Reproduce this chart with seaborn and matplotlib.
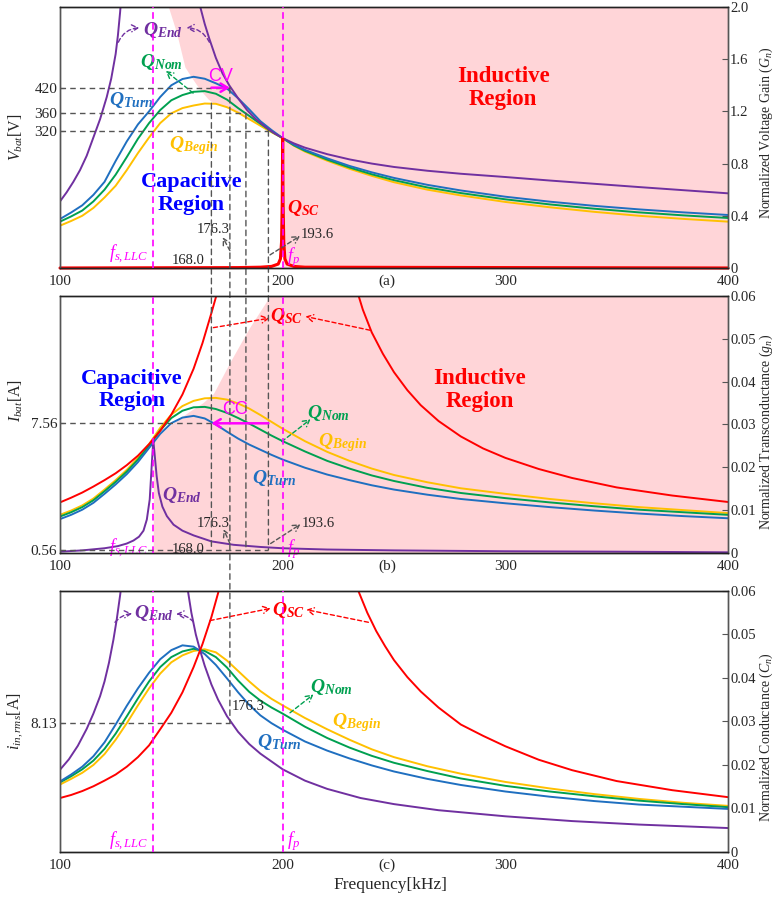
import matplotlib
matplotlib.use("Agg")
import matplotlib.pyplot as plt
from matplotlib.patches import ConnectionPatch
import seaborn as sns

# ---------------- panel (a): normalized voltage gain ----------------
A_F = [100, 105, 110, 115, 120, 125, 130, 135, 140, 145, 150, 155, 160, 165, 170, 175, 180, 185, 190, 195,
       200, 205, 210, 220, 230, 240, 250, 265, 280, 300, 320, 340, 360, 380, 400]
A_TURN = [0.375, 0.425, 0.48, 0.56, 0.66, 0.82, 0.97, 1.10, 1.20, 1.31, 1.40, 1.448, 1.465, 1.45, 1.415,
          1.375, 1.30, 1.215, 1.125, 1.057, 0.995, 0.945, 0.905, 0.84, 0.782, 0.733, 0.690, 0.637, 0.594,
          0.546, 0.508, 0.476, 0.449, 0.426, 0.406]
A_NOM = [0.355, 0.395, 0.44, 0.51, 0.60, 0.715, 0.85, 0.99, 1.11, 1.21, 1.285, 1.325, 1.35, 1.355, 1.335,
         1.29, 1.225, 1.165, 1.105, 1.045, 0.995, 0.94, 0.898, 0.83, 0.770, 0.718, 0.673, 0.617, 0.574,
         0.526, 0.487, 0.454, 0.426, 0.403, 0.383]
A_BEGIN = [0.324, 0.36, 0.40, 0.46, 0.54, 0.63, 0.75, 0.88, 1.00, 1.11, 1.185, 1.225, 1.245, 1.26, 1.258,
           1.232, 1.19, 1.14, 1.09, 1.04, 0.995, 0.937, 0.892, 0.822, 0.760, 0.706, 0.657, 0.600, 0.556,
           0.506, 0.465, 0.430, 0.400, 0.376, 0.355]
A_END_L_F = [100, 103, 106, 109, 112, 115, 118, 121, 123, 125, 126, 127, 128]
A_END_L = [0.51, 0.58, 0.66, 0.75, 0.86, 1.00, 1.14, 1.31, 1.45, 1.64, 1.78, 1.96, 2.18]
A_END_R_F = [161, 163, 165, 167, 170, 173, 176, 180, 184, 188, 192, 196, 200, 205, 210, 220, 230, 240,
             250, 265, 280, 300, 320, 340, 360, 380, 400]
A_END_R = [2.20, 2.00, 1.87, 1.76, 1.61, 1.49, 1.40, 1.30, 1.21, 1.14, 1.085, 1.035, 0.995, 0.955, 0.922,
           0.872, 0.832, 0.800, 0.774, 0.745, 0.722, 0.697, 0.670, 0.645, 0.620, 0.596, 0.572]
A_SC_F = [100, 180, 190, 195, 198, 199, 199.5, 199.8, 200, 200.2, 200.5, 201, 202, 205, 210, 400]
A_SC = [0, 0.003, 0.006, 0.012, 0.03, 0.07, 0.2, 0.5, 0.995, 0.5, 0.2, 0.07, 0.03, 0.012, 0.006, 0]
A_PINK_F = [148.7, 152.4, 156.1, 159.1, 161.5, 164, 166.5, 169, 175, 180, 185, 190, 195, 200]
A_PINK = [2.0, 1.80, 1.54, 1.46, 1.40, 1.345, 1.295, 1.262, 1.232, 1.19, 1.14, 1.09, 1.04, 0.995]
V_PER_GAIN = 304
V_LEVELS = [420, 360, 320]
V_TICKS = [320, 360, 420]

# ---------------- panel (b): normalized transconductance ----------------
BC_F = [100, 105, 110, 115, 120, 125, 130, 135, 140, 145, 150, 155, 160, 165, 170, 175, 180, 185, 190, 195,
        200, 210, 220, 230, 240, 250, 265, 280, 300, 320, 340, 360, 380, 400]
B_TURN = [0.0079, 0.0089, 0.0101, 0.0117, 0.0138, 0.0160, 0.0184, 0.0212, 0.0245, 0.0278, 0.0303, 0.0316,
          0.0320, 0.0314, 0.0300, 0.0283, 0.0267, 0.0253, 0.0241, 0.0229, 0.0218, 0.0199, 0.0183, 0.0170,
          0.0158, 0.0148, 0.0136, 0.0126, 0.0116, 0.0107, 0.0099, 0.0092, 0.0086, 0.0081]
B_NOM = [0.0085, 0.0095, 0.0107, 0.0123, 0.0144, 0.0166, 0.0190, 0.0218, 0.0250, 0.0286, 0.0315, 0.0332,
         0.0340, 0.0341, 0.0336, 0.0327, 0.0315, 0.0302, 0.0288, 0.0274, 0.0261, 0.0237, 0.0215, 0.0197,
         0.0181, 0.0168, 0.0152, 0.0140, 0.0128, 0.0118, 0.0109, 0.0101, 0.0095, 0.0089]
B_BEGIN = [0.0089, 0.0099, 0.0111, 0.0127, 0.0148, 0.0170, 0.0194, 0.0222, 0.0254, 0.0292, 0.0323, 0.0343,
           0.0355, 0.0361, 0.0362, 0.0358, 0.0349, 0.0337, 0.0322, 0.0306, 0.0290, 0.0261, 0.0236, 0.0215,
           0.0197, 0.0182, 0.0165, 0.0151, 0.0138, 0.0126, 0.0116, 0.0107, 0.0100, 0.0093]
B_END_F = [100, 110, 120, 126, 130, 133, 135.5, 137.5, 139, 140.3, 141.2, 141.9, 142.6, 143.4, 144.4, 146,
           148, 151, 155, 160, 168, 178, 190, 200, 220, 250, 300, 350, 400]
B_END = [0.0003, 0.0006, 0.0011, 0.0016, 0.0022, 0.0029, 0.0038, 0.0052, 0.0078, 0.0125, 0.0205, 0.0264,
         0.0225, 0.0180, 0.0140, 0.0108, 0.0086, 0.0066, 0.0052, 0.0041, 0.0027, 0.0019, 0.0014, 0.0011,
         0.0008, 0.0006, 0.0004, 0.0003, 0.00015]
B_SC_L_F = [100, 105, 110, 115, 120, 125, 130, 135, 140, 145, 150, 155, 160, 164, 168, 171, 173]
B_SC_L = [0.0118, 0.0129, 0.0141, 0.0155, 0.0170, 0.0186, 0.0205, 0.0227, 0.0254, 0.0285, 0.0323, 0.0370,
          0.0430, 0.0490, 0.0560, 0.0615, 0.0660]
B_SC_R_F = [230, 232, 236, 240, 245, 250, 256, 262, 270, 280, 290, 300, 315, 330, 350, 375, 400]
B_SC_R = [0.0670, 0.0636, 0.0568, 0.0515, 0.0465, 0.0422, 0.0380, 0.0345, 0.0308, 0.0272, 0.0244, 0.0222,
          0.0196, 0.0175, 0.0153, 0.0134, 0.0119]
B_PINK_F = [141.9, 150, 158, 164, 168.9, 176.3, 185, 194.3]
B_PINK = [0.0264, 0.0300, 0.0330, 0.0350, 0.0372, 0.0445, 0.0525, 0.060]
I_LIM = (0.394, 14.6)
I_TICKS = [0.56, 7.56]

# ---------------- panel (c): normalized conductance ----------------
C_TURN = [0.0162, 0.0178, 0.0196, 0.0220, 0.0252, 0.0293, 0.0336, 0.0376, 0.0412, 0.0443, 0.0464, 0.0475,
          0.0472, 0.0455, 0.0430, 0.0399, 0.0367, 0.0338, 0.0314, 0.0296, 0.0281, 0.0254, 0.0233, 0.0215,
          0.0199, 0.0185, 0.0168, 0.0154, 0.0139, 0.0127, 0.0117, 0.0109, 0.0104, 0.0099]
C_NOM = [0.0160, 0.0174, 0.0190, 0.0210, 0.0237, 0.0272, 0.0312, 0.0353, 0.0392, 0.0425, 0.0448, 0.0461,
         0.0467, 0.0462, 0.0448, 0.0424, 0.0394, 0.0368, 0.0348, 0.0332, 0.0318, 0.0288, 0.0262, 0.0240,
         0.0221, 0.0205, 0.0186, 0.0169, 0.0152, 0.0139, 0.0128, 0.0118, 0.0110, 0.0103]
C_BEGIN = [0.0155, 0.0168, 0.0182, 0.0200, 0.0225, 0.0258, 0.0296, 0.0337, 0.0376, 0.0410, 0.0436, 0.0452,
           0.0462, 0.0466, 0.0459, 0.0440, 0.0416, 0.0392, 0.0370, 0.0352, 0.0337, 0.0308, 0.0282, 0.0258,
           0.0236, 0.0218, 0.0197, 0.0180, 0.0161, 0.0146, 0.0133, 0.0122, 0.0113, 0.0106]
C_END_L_F = [100, 104, 108, 112, 115, 118, 120, 122, 124, 125.5, 127, 128.5]
C_END_L = [0.0189, 0.0213, 0.0244, 0.0283, 0.0318, 0.0358, 0.0392, 0.0435, 0.0488, 0.0535, 0.0590, 0.0650]
C_END_R_F = [155.5, 157, 159, 161, 163, 165, 168, 171, 175, 180, 185, 190, 200, 210, 220, 235, 250, 270,
             300, 330, 360, 400]
C_END_R = [0.0670, 0.0615, 0.0550, 0.0500, 0.0462, 0.0428, 0.0385, 0.0350, 0.0312, 0.0276, 0.0248, 0.0226,
           0.0190, 0.0164, 0.0145, 0.0124, 0.0110, 0.0096, 0.0082, 0.0071, 0.0063, 0.0055]
C_SC_L_F = [100, 105, 110, 115, 120, 125, 130, 135, 140, 145, 150, 155, 160, 164, 168, 171, 173.5]
C_SC_L = [0.0124, 0.0131, 0.0140, 0.0151, 0.0164, 0.0178, 0.0196, 0.0218, 0.0245, 0.0282, 0.0320, 0.0367,
          0.0425, 0.0478, 0.0540, 0.0595, 0.0650]
C_SC_R_F = [230, 234, 238, 242, 246, 250, 256, 262, 270, 280, 290, 300, 315, 330, 350, 375, 400]
C_SC_R = [0.0660, 0.0600, 0.0550, 0.0508, 0.0473, 0.0441, 0.0402, 0.0369, 0.0332, 0.0293, 0.0267, 0.0243,
          0.0212, 0.0188, 0.0163, 0.0142, 0.0126]
A_PER_C = 275.2
C_TICKS = [8.13]

# marked frequencies (kHz) and levels
F_S_LLC = 141.8
F_P = 200
F_168 = 168.0
F_176 = 176.3
F_183 = 183.5
F_193 = 193.6
I_CC = 7.56
I_LOW = 0.56
I_RMS = 8.13

X_TICKS = [100, 200, 300, 400]
GAIN_TICKS = [0, 0.4, 0.8, 1.2, 1.6, 2.0]
GAIN_LABELS = ["0", "0.4", "0.8", "1.2", "1.6", "2.0"]
G_TICKS = [0, 0.01, 0.02, 0.03, 0.04, 0.05, 0.06]
G_LABELS = ["0", "0.01", "0.02", "0.03", "0.04", "0.05", "0.06"]

PURPLE = "#7030A0"
BLUE = "#1F6FC0"
GREEN = "#00A050"
YELLOW = "#FFC000"
RED = "#FF0000"
MAGENTA = "#FF00FF"
PINK = "#FFD5D8"
GRAY = "#555555"

sns.set_style("white")
plt.rcParams["font.family"] = ["Liberation Serif", "DejaVu Serif"]
plt.rcParams["mathtext.fontset"] = "custom"
plt.rcParams["mathtext.rm"] = "Liberation Serif"
plt.rcParams["mathtext.it"] = "Liberation Serif:italic"
plt.rcParams["mathtext.bf"] = "Liberation Serif:italic:bold"

fig = plt.figure(figsize=(7.73, 9.05), dpi=100)
ax_a = fig.add_axes([0.0776, 0.7039, 0.8642, 0.2884])
ax_b = fig.add_axes([0.0776, 0.3890, 0.8642, 0.2840])
ax_c = fig.add_axes([0.0776, 0.0586, 0.8642, 0.2884])

DASH = (0, (4, 3))
MDASH = (0, (4, 2.5))


def curve(ax, f, y, color, lw=1.4, **kw):
    sns.lineplot(x=f, y=y, ax=ax, color=color, linewidth=lw, estimator=None,
                 sort=False, legend=False, **kw)


def qlabel(ax, x, y, name, color, size=14):
    ax.text(x, y, r"$\mathbf{Q_{%s}}$" % name, color=color, fontsize=size,
            ha="center", va="center", zorder=6)


def arrow(ax, start, end, color, rad=0.0, lw=1.0):
    ax.annotate("", xy=end, xytext=start, zorder=6,
                arrowprops=dict(arrowstyle="->,head_length=0.45,head_width=0.25",
                                color=color, lw=lw, ls=(0, (3, 2)),
                                shrinkA=0, shrinkB=0,
                                connectionstyle="arc3,rad=%s" % rad))


def setup(ax, ylim, yticks, ylabel, rlim, rticks, rlabels, rlabel, tag, label_y, rlabel_y):
    axr = ax.twinx()
    ax.set_zorder(axr.get_zorder() + 1)
    ax.patch.set_visible(False)
    ax.set_xlim(100, 400)
    ax.set_ylim(*ylim)
    ax.set_xticks(X_TICKS)
    ax.set_yticks(yticks)
    ax.set_yticklabels(["%.2f" % t if t < 1 else "%g" % t for t in yticks])
    axr.set_ylim(*rlim)
    axr.set_yticks(rticks)
    axr.set_yticklabels(rlabels)
    ax.tick_params(axis="x", direction="in", length=4, labelsize=11, pad=5)
    ax.tick_params(axis="y", direction="in", length=3, labelsize=11, pad=2)
    axr.tick_params(axis="y", direction="in", length=4, labelsize=10.5, pad=1.5, color=GRAY)
    for a in (ax, axr):
        for s in a.spines.values():
            s.set_color(GRAY)
            s.set_linewidth(1.0)
        a.spines["bottom"].set_color("#222222")
        a.spines["top"].set_color("#222222")
    ax.set_ylabel(ylabel, fontsize=11.5)
    ax.yaxis.set_label_coords(-0.052, label_y)
    axr.set_ylabel(rlabel, fontsize=10)
    axr.yaxis.set_label_coords(1.044, rlabel_y)
    ax.text(0.49, -0.05, tag, transform=ax.transAxes, ha="center", va="center", fontsize=11)
    for fv in (F_S_LLC, F_P):
        ax.axvline(fv, color=MAGENTA, ls=MDASH, lw=1.2, zorder=3)
    return axr


# ---------------- panel (a) ----------------
ar = setup(ax_a, (0, 2 * V_PER_GAIN), V_TICKS, r"$V_{bat}$[V]", (0, 2.0), GAIN_TICKS, GAIN_LABELS,
           r"Normalized Voltage Gain ($G_n$)", "(a)", 0.5, 0.52)
ar.fill_between(A_PINK_F, A_PINK, 2.0, color=PINK, lw=0, zorder=0)
ar.axvspan(F_P, 400, color=PINK, lw=0, zorder=0)
curve(ar, A_F, A_BEGIN, YELLOW)
curve(ar, A_F, A_NOM, GREEN)
curve(ar, A_F, A_TURN, BLUE)
curve(ar, A_END_L_F, A_END_L, PURPLE)
curve(ar, A_END_R_F, A_END_R, PURPLE)
curve(ar, A_SC_F, A_SC, RED, lw=2.2, clip_on=False)

for v, fe in zip(V_LEVELS, (F_176, F_183, F_193)):
    ax_a.plot([100, fe], [v, v], color=GRAY, ls=DASH, lw=1.0, zorder=4)
ax_a.annotate("", xy=(F_176, V_LEVELS[0]), xytext=(F_168, V_LEVELS[0]), zorder=6,
              arrowprops=dict(arrowstyle="->,head_length=0.5,head_width=0.3", color=MAGENTA, lw=1.8,
                              shrinkA=0, shrinkB=0))
ax_a.text(172.0, 447, "CV", color=MAGENTA, fontsize=13, ha="center", va="center",
          family="Liberation Sans", zorder=6)

qlabel(ar, 146.1, 1.82, "End", PURPLE)
arrow(ar, (126.2, 1.73), (135.6, 1.84), PURPLE, rad=-0.3)
arrow(ar, (167.1, 1.73), (156.8, 1.84), PURPLE, rad=0.3)
qlabel(ar, 145.4, 1.58, "Nom", GREEN)
arrow(ar, (159.8, 1.34), (147.5, 1.51), GREEN)
qlabel(ar, 132.2, 1.29, "Turn", BLUE)
qlabel(ar, 159.9, 0.94, "Begin", YELLOW)
qlabel(ar, 209.3, 0.457, "SC", RED)
ar.text(159.1, 0.57, "Capacitive\nRegion", color="#0000FF", fontsize=16, fontweight="bold",
        ha="center", va="center", linespacing=1.15, zorder=6)
ar.text(299.1, 1.377, "Inductive\nRegion", color=RED, fontsize=16.5, fontweight="bold",
        ha="center", va="center", linespacing=1.15, zorder=6)
ar.text(168.9, 0.296, "176.3", fontsize=10.5, ha="center", va="center", zorder=6)
arrow(ar, (176.3, 0.133), (173.1, 0.235), GRAY)
ar.text(164.8, 0.056, "168.0", fontsize=10.5, ha="right", va="center", zorder=6)
ar.text(208.3, 0.253, "193.6", fontsize=10.5, ha="left", va="center", zorder=6)
arrow(ar, (194.3, 0.10), (207.8, 0.245), GRAY)
ar.text(139.5, 0.10, r"$f_{s,LLC}$", color=MAGENTA, fontsize=13, ha="right", va="center", zorder=6)
ar.text(202.0, 0.087, r"$f_{p}$", color=MAGENTA, fontsize=13, ha="left", va="center", zorder=6)

# ---------------- panel (b) ----------------
br = setup(ax_b, I_LIM, I_TICKS, r"$I_{bat}$[A]", (0, 0.06), G_TICKS, G_LABELS,
           r"Normalized Transconductance ($g_n$)", "(b)", 0.595, 0.47)
br.fill_between(B_PINK_F, 0, B_PINK, color=PINK, lw=0, zorder=0)
br.axvspan(B_PINK_F[-1], 400, color=PINK, lw=0, zorder=0)
curve(br, BC_F, B_BEGIN, YELLOW)
curve(br, BC_F, B_NOM, GREEN)
curve(br, BC_F, B_TURN, BLUE)
curve(br, B_END_F, B_END, PURPLE)
curve(br, B_SC_L_F, B_SC_L, RED)
curve(br, B_SC_R_F, B_SC_R, RED)

ax_b.plot([100, F_168], [I_CC, I_CC], color=GRAY, ls=DASH, lw=1.0, zorder=4)
ax_b.plot([100, F_193], [I_LOW, I_LOW], color=GRAY, ls=DASH, lw=1.0, zorder=4)
ax_b.annotate("", xy=(F_168, I_CC), xytext=(F_193, I_CC), zorder=6,
              arrowprops=dict(arrowstyle="->,head_length=0.5,head_width=0.3", color=MAGENTA, lw=1.8,
                              shrinkA=0, shrinkB=0))
br.text(178.6, 0.0336, "CC", color=MAGENTA, fontsize=13, ha="center", va="center",
        family="Liberation Sans", zorder=6)

qlabel(br, 201.8, 0.0552, "SC", RED)
arrow(br, (168.9, 0.0526), (194.0, 0.0548), RED)
arrow(br, (239.2, 0.0520), (210.3, 0.0552), RED)
qlabel(br, 220.5, 0.0326, "Nom", GREEN)
arrow(br, (199.6, 0.0260), (212.5, 0.0312), GREEN)
qlabel(br, 226.9, 0.0258, "Begin", YELLOW)
qlabel(br, 196.1, 0.0176, "Turn", BLUE)
qlabel(br, 154.6, 0.0135, "End", PURPLE)
br.text(132.2, 0.0380, "Capacitive\nRegion", color="#0000FF", fontsize=16, fontweight="bold",
        ha="center", va="center", linespacing=1.15, zorder=6)
br.text(288.6, 0.0380, "Inductive\nRegion", color=RED, fontsize=16.5, fontweight="bold",
        ha="center", va="center", linespacing=1.15, zorder=6)
br.text(168.9, 0.0069, "176.3", fontsize=10.5, ha="center", va="center", zorder=6)
arrow(br, (176.3, 0.0022), (173.5, 0.0055), GRAY)
br.text(164.8, 0.0008, "168.0", fontsize=10.5, ha="right", va="center", zorder=6)
br.text(208.6, 0.0069, "193.6", fontsize=10.5, ha="left", va="center", zorder=6)
arrow(br, (194.6, 0.0022), (208.0, 0.0067), GRAY)
br.text(139.5, 0.0011, r"$f_{s,LLC}$", color=MAGENTA, fontsize=13, ha="right", va="center", zorder=6)
br.text(202.0, 0.0009, r"$f_{p}$", color=MAGENTA, fontsize=13, ha="left", va="center", zorder=6)

# ---------------- panel (c) ----------------
cr = setup(ax_c, (0, 0.06 * A_PER_C), C_TICKS, r"$i_{in,rms}$[A]", (0, 0.06), G_TICKS, G_LABELS,
           r"Normalized Conductance ($C_n$)", "(c)", 0.5, 0.44)
curve(cr, BC_F, C_BEGIN, YELLOW)
curve(cr, BC_F, C_NOM, GREEN)
curve(cr, BC_F, C_TURN, BLUE)
curve(cr, C_END_L_F, C_END_L, PURPLE)
curve(cr, C_END_R_F, C_END_R, PURPLE)
curve(cr, C_SC_L_F, C_SC_L, RED)
curve(cr, C_SC_R_F, C_SC_R, RED)

ax_c.plot([100, F_176], [I_RMS, I_RMS], color=GRAY, ls=DASH, lw=1.0, zorder=4)
qlabel(cr, 142.2, 0.0549, "End", PURPLE)
arrow(cr, (124.7, 0.0528), (132.4, 0.0548), PURPLE, rad=-0.2)
arrow(cr, (159.9, 0.0529), (152.2, 0.0547), PURPLE, rad=0.2)
qlabel(cr, 202.5, 0.0557, "SC", RED)
arrow(cr, (167.4, 0.0532), (194.6, 0.0560), RED)
arrow(cr, (238.5, 0.0528), (210.6, 0.0557), RED)
qlabel(cr, 222.0, 0.0380, "Nom", GREEN)
arrow(cr, (203.3, 0.0320), (213.8, 0.0362), GREEN)
qlabel(cr, 233.2, 0.0297, "Begin", YELLOW)
qlabel(cr, 198.5, 0.0252, "Turn", BLUE)
cr.text(177.0, 0.0334, "176.3", fontsize=10.5, ha="left", va="center", zorder=6)
cr.text(139.5, 0.0024, r"$f_{s,LLC}$", color=MAGENTA, fontsize=13, ha="right", va="center", zorder=6)
cr.text(202.0, 0.0024, r"$f_{p}$", color=MAGENTA, fontsize=13, ha="left", va="center", zorder=6)

# vertical dashed guides running across panels
guides = [
    ((F_168, A_PINK[7]), ar, (F_168, I_LOW), ax_b),
    ((F_176, V_LEVELS[0]), ax_a, (F_176, I_RMS), ax_c),
    ((F_183, V_LEVELS[1]), ax_a, (F_183, I_LOW), ax_b),
    ((F_193, V_LEVELS[2]), ax_a, (F_193, I_LOW), ax_b),
]
for xa, axa, xb, axb in guides:
    con = ConnectionPatch(xyA=xa, coordsA="data", axesA=axa, xyB=xb, coordsB="data", axesB=axb,
                          color=GRAY, ls=DASH, lw=1.0)
    fig.add_artist(con)

fig.text(0.505, 0.022, "Frequency[kHz]", ha="center", va="center", fontsize=12.5)

plt.savefig("out.png", dpi=100)
plt.close()
